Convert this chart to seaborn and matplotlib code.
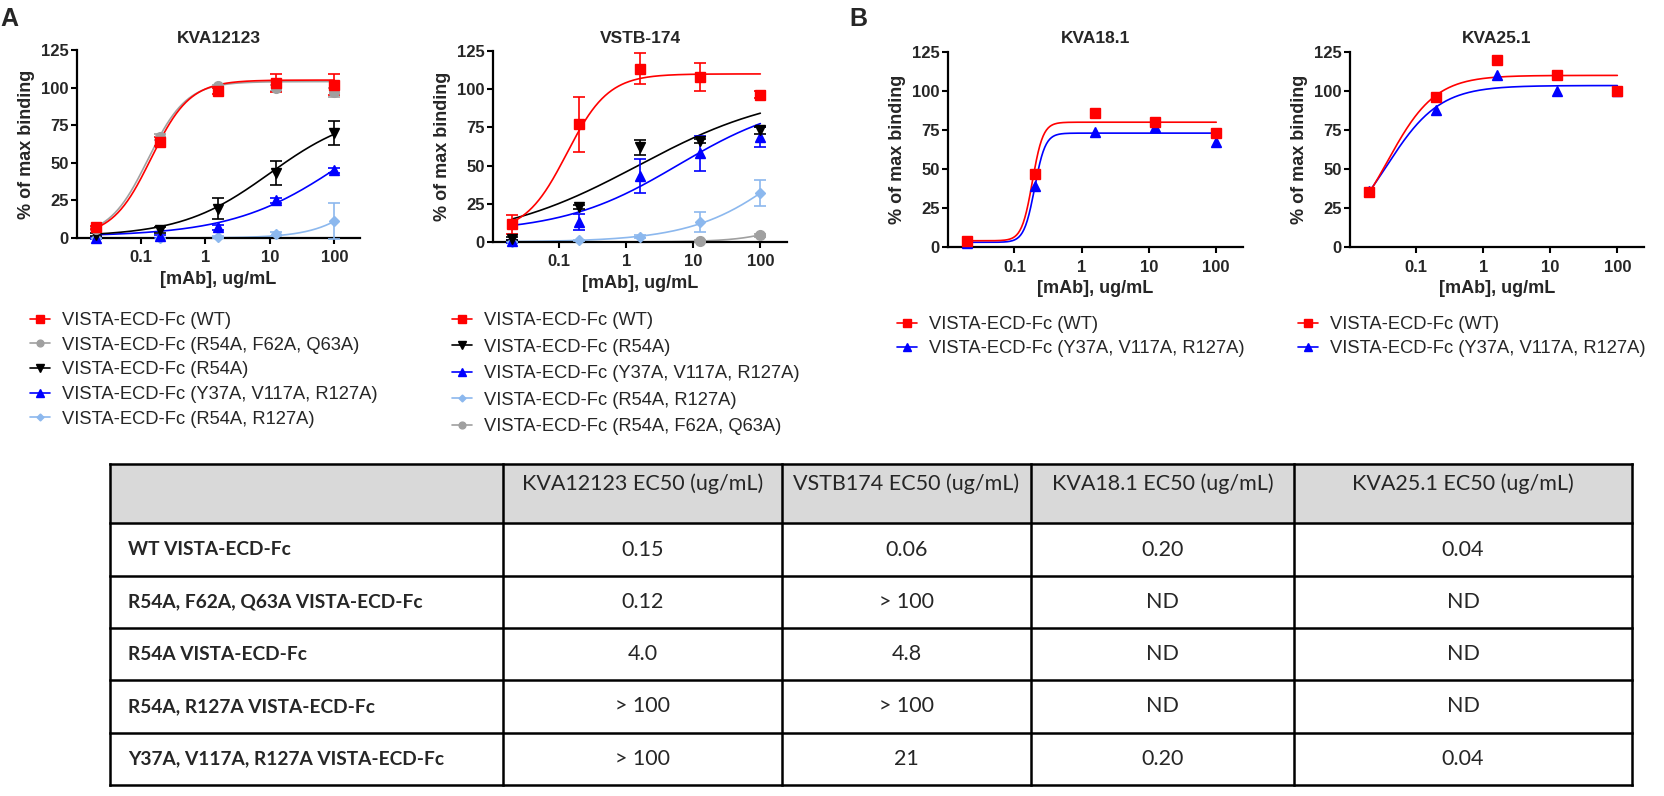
import numpy as np
import pandas as pd
import matplotlib
matplotlib.use('Agg')
import matplotlib.pyplot as plt
from matplotlib.lines import Line2D
from matplotlib.patches import Rectangle
import seaborn as sns

# antibody concentrations (ug/mL)
conc = [0.02, 0.2, 1.6, 12.5, 100]

# series names
WT = 'VISTA-ECD-Fc (WT)'
TRIPLE = 'VISTA-ECD-Fc (R54A, F62A, Q63A)'
R54A = 'VISTA-ECD-Fc (R54A)'
Y37A = 'VISTA-ECD-Fc (Y37A, V117A, R127A)'
DOUBLE = 'VISTA-ECD-Fc (R54A, R127A)'

# KVA12123: mean % of max binding, error and fit [bottom, top, EC50, hill]
kva12123_wt = [7, 64, 98, 103, 102]
kva12123_wt_err = [1, 3, 2, 6, 7]
kva12123_wt_fit = [1, 105, 0.145, 1.45]
kva12123_triple = [6, 67, 101, 100, 97]
kva12123_triple_err = [1, 2, 1, 2, 3]
kva12123_triple_fit = [1, 104, 0.13, 1.45]
kva12123_r54a = [2, 5.5, 19.5, 43, 70]
kva12123_r54a_err = [1, 2, 7, 8, 8]
kva12123_r54a_fit = [1, 85, 10, 0.63]
kva12123_y37a = [0, 1, 7, 25, 45]
kva12123_y37a_err = [0.5, 1, 1.5, 1.5, 1.5]
kva12123_y37a_fit = [1, 100, 150, 0.5]
kva12123_double = [0, 0, 0.5, 2.5, 11.5]
kva12123_double_err = [0.3, 0.3, 0.5, 1.5, 12]
kva12123_double_fit = [0, 100, 800, 1.0]

# VSTB-174 (nan = point not visible in the figure)
vstb174_wt = [11.5, 77, 113.5, 108, 96.5]
vstb174_wt_err = [6, 18, 10, 9, 2.5]
vstb174_wt_fit = [6, 110, 0.13, 1.4]
vstb174_r54a = [2, 23, 62, 66, 73]
vstb174_r54a_err = [1, 1.5, 5, 1.5, 2]
vstb174_r54a_fit = [0, 100, 1.5, 0.4]
vstb174_y37a = [0.5, 13, 43, 58, 69]
vstb174_y37a_err = [1, 5, 11, 11.5, 6.5]
vstb174_y37a_fit = [6, 95, 6, 0.5]
vstb174_double = [0, 1, 3.5, 13, 32]
vstb174_double_err = [0.5, 0.5, 1, 6.5, 8.5]
vstb174_double_fit = [0, 100, 350, 0.6]
vstb174_triple = [np.nan, np.nan, np.nan, 0.5, 4.5]
vstb174_triple_err = [0, 0, 0, 0.5, 1]
vstb174_triple_fit = [0, 100, 2000, 1.0]

# KVA18.1
kva181_wt = [4, 47, 86, 80, 73]
kva181_wt_fit = [4, 80, 0.185, 5.5]
kva181_y37a = [2.3, 39, 74, 77, 67]
kva181_y37a_fit = [3, 73, 0.2, 5.5]

# KVA25.1
kva251_wt = [35, 96, 120, 110, 100]
kva251_wt_fit = [0, 110, 0.0374, 1.22]
kva251_y37a = [36, 88, 110.5, 100, 100]
kva251_y37a_fit = [0, 103.5, 0.036, 1.1]

# EC50 table
table_columns = ['', 'KVA12123 EC50 (ug/mL)', 'VSTB174 EC50 (ug/mL)',
                 'KVA18.1 EC50 (ug/mL)', 'KVA25.1 EC50 (ug/mL)']
table_rows = ['WT VISTA-ECD-Fc', 'R54A, F62A, Q63A VISTA-ECD-Fc', 'R54A VISTA-ECD-Fc',
              'R54A, R127A VISTA-ECD-Fc', 'Y37A, V117A, R127A VISTA-ECD-Fc']
ec50_kva12123 = ['0.15', '0.12', '4.0', '> 100', '> 100']
ec50_vstb174 = ['0.06', '> 100', '4.8', '> 100', '21']
ec50_kva181 = ['0.20', 'ND', 'ND', 'ND', '0.20']
ec50_kva251 = ['0.04', 'ND', 'ND', 'ND', '0.04']

styles = {
    WT: dict(color='#ff0000', marker='s', ms=7.5),
    TRIPLE: dict(color='#a0a0a0', marker='o', ms=7),
    R54A: dict(color='#000000', marker='v', ms=7.5),
    Y37A: dict(color='#0000ff', marker='^', ms=7.5),
    DOUBLE: dict(color='#8cb8ee', marker='D', ms=5),
}

sns.set_theme(style='ticks')
plt.rcParams['font.family'] = ['Liberation Sans', 'DejaVu Sans']

W, H = 1664, 796
fig = plt.figure(figsize=(W / 100, H / 100), dpi=100)


def four_pl(x, p):
    bottom, top, ec50, hill = p
    return bottom + (top - bottom) / (1 + (ec50 / x) ** hill)


def draw_panel(ax, title, series, top_px, legend_xy, spacing):
    xs = np.logspace(np.log10(conc[0]), np.log10(conc[-1]), 300)
    for name, vals, err, fit in series:
        st = styles[name]
        curve = pd.DataFrame({'x': xs, 'y': four_pl(xs, fit)})
        sns.lineplot(data=curve, x='x', y='y', ax=ax, color=st['color'], linewidth=1.2)
        ax.errorbar(conc, vals, yerr=err, fmt=st['marker'], color=st['color'],
                    ms=st['ms'], capsize=4, elinewidth=1.2, capthick=1.2,
                    clip_on=False, zorder=3)
    ax.set_xscale('log')
    ax.set_xlim(0.0103, 250)
    ax.set_ylim(0, 125)
    ax.set_yticks([0, 25, 50, 75, 100, 125])
    ax.set_xticks([0.1, 1, 10, 100])
    ax.set_xticklabels(['0.1', '1', '10', '100'])
    ax.xaxis.set_minor_locator(matplotlib.ticker.NullLocator())
    for s in ['top', 'right']:
        ax.spines[s].set_visible(False)
    for s in ['left', 'bottom']:
        ax.spines[s].set_linewidth(1.6)
        ax.spines[s].set_color('black')
    ax.tick_params(axis='both', length=4, width=1.5, color='black', labelsize=12)
    ax.tick_params(axis='x', pad=5)
    ax.tick_params(axis='y', pad=2)
    for lb in ax.get_xticklabels() + ax.get_yticklabels():
        lb.set_fontweight('bold')
    ax.set_xlabel('[mAb], ug/mL', fontsize=13, fontweight='bold', labelpad=4)
    ax.set_ylabel('% of max binding', fontsize=13, fontweight='bold', labelpad=4)
    ax.set_title(title, fontsize=12.5, fontweight='bold', pad=(top_px - 43) / 1.389)
    handles = []
    for name, vals, err, fit in reversed(series):
        st = styles[name]
        handles.append(Line2D([], [], color=st['color'], marker=st['marker'],
                              ms=st['ms'] * 0.7, linewidth=1.2, label=name))
    ax.legend(handles=handles, loc='upper left', frameon=False, fontsize=13.2,
              bbox_to_anchor=(legend_xy[0] / W, 1 - legend_xy[1] / H),
              bbox_transform=fig.transFigure, borderpad=0, borderaxespad=0,
              handlelength=1.09, handletextpad=0.68, labelspacing=spacing)


ax1 = fig.add_axes([77 / W, 1 - 238 / H, 283 / W, 188 / H])
draw_panel(ax1, 'KVA12123', [
    (DOUBLE, kva12123_double, kva12123_double_err, kva12123_double_fit),
    (Y37A, kva12123_y37a, kva12123_y37a_err, kva12123_y37a_fit),
    (R54A, kva12123_r54a, kva12123_r54a_err, kva12123_r54a_fit),
    (TRIPLE, kva12123_triple, kva12123_triple_err, kva12123_triple_fit),
    (WT, kva12123_wt, kva12123_wt_err, kva12123_wt_fit),
], 50, (30, 312), 0.42)

ax2 = fig.add_axes([493 / W, 1 - 242 / H, 294 / W, 191 / H])
draw_panel(ax2, 'VSTB-174', [
    (TRIPLE, vstb174_triple, vstb174_triple_err, vstb174_triple_fit),
    (DOUBLE, vstb174_double, vstb174_double_err, vstb174_double_fit),
    (Y37A, vstb174_y37a, vstb174_y37a_err, vstb174_y37a_fit),
    (R54A, vstb174_r54a, vstb174_r54a_err, vstb174_r54a_fit),
    (WT, vstb174_wt, vstb174_wt_err, vstb174_wt_fit),
], 51, (452, 312), 0.52)

ax3 = fig.add_axes([948 / W, 1 - 247 / H, 295 / W, 195 / H])
draw_panel(ax3, 'KVA18.1', [
    (Y37A, kva181_y37a, None, kva181_y37a_fit),
    (WT, kva181_wt, None, kva181_wt_fit),
], 52, (897, 316), 0.38)

ax4 = fig.add_axes([1350 / W, 1 - 247 / H, 294 / W, 195 / H])
draw_panel(ax4, 'KVA25.1', [
    (Y37A, kva251_y37a, None, kva251_y37a_fit),
    (WT, kva251_wt, None, kva251_wt_fit),
], 52, (1298, 316), 0.38)

fig.text(0 / W, 1 - 7 / H, 'A', fontsize=18, fontweight='bold', ha='left', va='top')
fig.text(849 / W, 1 - 7 / H, 'B', fontsize=18, fontweight='bold', ha='left', va='top')

# table drawn in a pixel-space overlay
tab = fig.add_axes([0, 0, 1, 1])
tab.set_xlim(0, W)
tab.set_ylim(H, 0)
tab.axis('off')
col_x = [110, 503, 782, 1031, 1294, 1632]
row_y = [464, 523, 576, 628, 680, 733, 785]
tab.add_patch(Rectangle((col_x[0], row_y[0]), col_x[-1] - col_x[0], row_y[1] - row_y[0],
                        facecolor='#d9d9d9', edgecolor='none'))
for x in col_x:
    tab.plot([x, x], [row_y[0], row_y[-1]], color='black', lw=1.8, solid_capstyle='projecting')
for y in row_y:
    tab.plot([col_x[0], col_x[-1]], [y, y], color='black', lw=1.8, solid_capstyle='projecting')

tfont = ['Lato', 'DejaVu Sans']
for j, head in enumerate(table_columns):
    if head:
        tab.text((col_x[j] + col_x[j + 1]) / 2, 484, head, ha='center', va='center',
                 fontsize=15.5, family=tfont)
columns_vals = [ec50_kva12123, ec50_vstb174, ec50_kva181, ec50_kva251]
for i, label in enumerate(table_rows):
    yc = (row_y[i + 1] + row_y[i + 2]) / 2
    tab.text(128, yc, label, ha='left', va='center', fontsize=13.8, fontweight='bold', family=tfont)
    for j, vals in enumerate(columns_vals):
        tab.text((col_x[j + 1] + col_x[j + 2]) / 2, yc, vals[i], ha='center', va='center',
                 fontsize=15.5, family=tfont)

fig.savefig('out.png', dpi=100)
